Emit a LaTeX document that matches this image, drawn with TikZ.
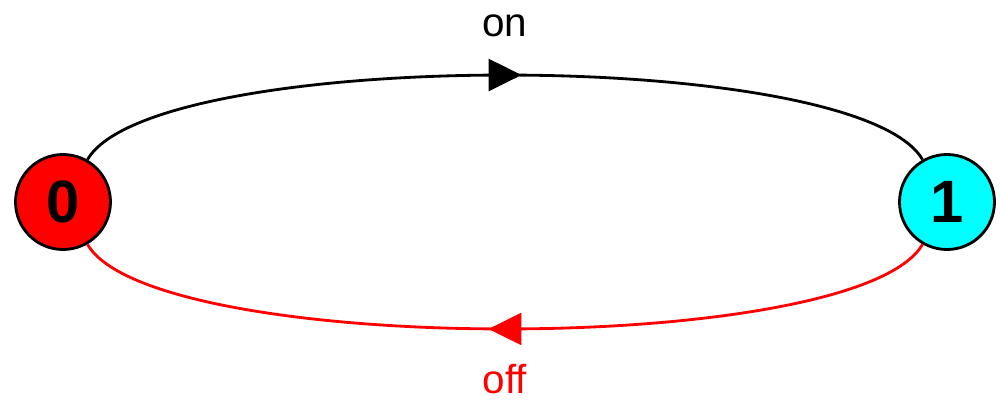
\documentclass[tikz,border=0pt]{standalone}
\usepackage{fontspec}
\setmainfont{Liberation Sans}
\usetikzlibrary{arrows.meta,decorations.markings}
\definecolor{stateon}{RGB}{0,255,255}
\definecolor{stateoff}{RGB}{255,0,0}

\begin{document}
\begin{tikzpicture}[
  state/.style={circle, draw=black, line width=1.6pt, minimum size=1.9cm,
    inner sep=0pt, font=\fontsize{34}{34}\selectfont\bfseries},
  trans/.style={line width=1.6pt, postaction={decorate}, decoration={markings,
    mark=at position 0.5 with {\arrow[xshift=0.33cm]{Triangle[length=0.66cm,width=0.64cm]}}}},
  lbl/.style={inner sep=0pt, font=\fontsize{23}{23}\selectfont}
 ]
  \useasboundingbox (0, 0) rectangle (20, 8.02);

  \node[state, fill=stateoff] (s0) at (1.26, 3.98) {0};
  \node[state, fill=stateon] (s1) at (18.94, 3.98) {1};

  \draw[trans] (s0) to[out=60, in=120, looseness=0.4]
    node[lbl, above=0.74cm, pos=0.5] (on) {on} (s1);
  \draw[trans, stateoff] (s1) to[out=-120, in=-60, looseness=0.4]
    node[lbl, below=0.68cm, pos=0.5] (off) {off} (s0);
 \end{tikzpicture}
\end{document}
